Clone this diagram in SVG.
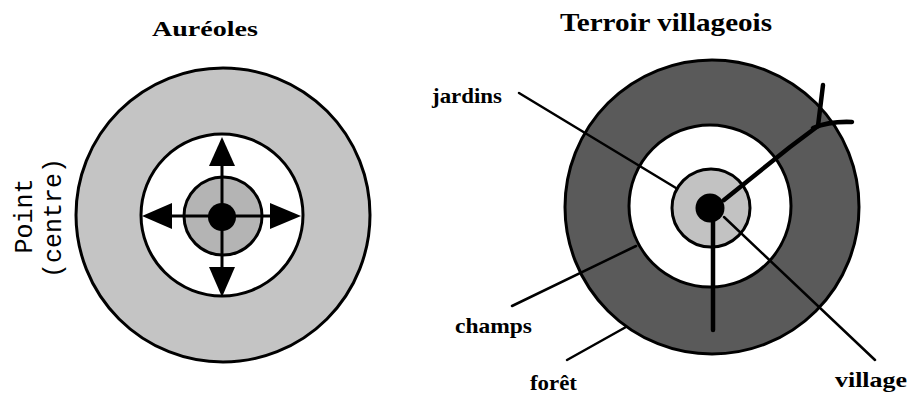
<svg xmlns="http://www.w3.org/2000/svg" width="907" height="394" viewBox="0 0 907 394">
<style>
.ring{stroke:#000;stroke-width:3}
.title{font-family:"Liberation Serif","Times New Roman",serif;font-weight:bold;fill:#000}
.lbl{font-family:"Liberation Serif","Times New Roman",serif;font-weight:bold;font-size:22px;fill:#000}
.mono{font-family:"Liberation Mono","Courier New",monospace;font-size:25px;fill:#000;text-anchor:middle}
.thin{stroke:#000;stroke-width:2.5;fill:none;stroke-linecap:round}
.thick{stroke:#000;stroke-width:4.5;fill:none;stroke-linecap:round;stroke-linejoin:round}
</style>
<rect width="907" height="394" fill="#fff"/>
<text class="title" x="152" y="36" font-size="20" textLength="106" lengthAdjust="spacingAndGlyphs">Auréoles</text>
<text class="title" x="560" y="31" font-size="26" textLength="212" lengthAdjust="spacingAndGlyphs">Terroir villageois</text>
<g id="aureoles">
<circle class="ring" cx="223" cy="215" r="147" fill="#c4c4c4"/>
<circle class="ring" cx="222" cy="215" r="81" fill="#fff"/>
<circle class="ring" cx="223" cy="216" r="39" fill="#b4b4b4"/>
<circle cx="222" cy="217" r="14" fill="#000"/>
</g>
<g id="arrows">
<line x1="222" y1="150" x2="222" y2="284" stroke="#000" stroke-width="3"/>
<line x1="155" y1="216" x2="289" y2="216" stroke="#000" stroke-width="3"/>
<polygon points="222,137 209,166 235,166"/>
<polygon points="222,297 209,267 235,267"/>
<polygon points="142,216 172,203 172,229"/>
<polygon points="301,216 270,203 270,229"/>
</g>
<g id="point-label">
<text class="mono" transform="translate(31.5,216) rotate(-90)">Point</text>
<text class="mono" transform="translate(60.5,218) rotate(-90)">(centre)</text>
</g>
<g id="terroir">
<circle class="ring" cx="712" cy="207" r="147" fill="#5a5a5a"/>
<circle class="ring" cx="710" cy="206" r="81" fill="#fff"/>
<circle class="ring" cx="711" cy="208" r="39" fill="#c2c2c2"/>
<circle cx="710" cy="208" r="14.5" fill="#000"/>
</g>
<g id="connectors">
<line class="thin" x1="519" y1="93" x2="676" y2="188"/>
<line class="thin" x1="724" y1="217" x2="875" y2="360"/>
<line class="thin" x1="636" y1="246" x2="512" y2="306" stroke-width="3"/>
<line class="thin" x1="626" y1="327" x2="567" y2="360" stroke-width="3"/>
<polyline class="thick" points="724,200 790,147 818,126"/>
<line class="thick" x1="818" y1="126" x2="823" y2="85"/>
<path class="thick" d="M813,128 Q830,121 852,122"/>
<line class="thick" x1="713" y1="222" x2="713" y2="330"/>
</g>
<g id="labels">
<text class="lbl" x="432" y="103" textLength="70" lengthAdjust="spacingAndGlyphs">jardins</text>
<text class="lbl" x="455" y="333" textLength="77" lengthAdjust="spacingAndGlyphs">champs</text>
<text class="lbl" x="530" y="390" textLength="47" lengthAdjust="spacingAndGlyphs">forêt</text>
<text class="lbl" x="835" y="387" textLength="72" lengthAdjust="spacingAndGlyphs">village</text>
</g>
</svg>
